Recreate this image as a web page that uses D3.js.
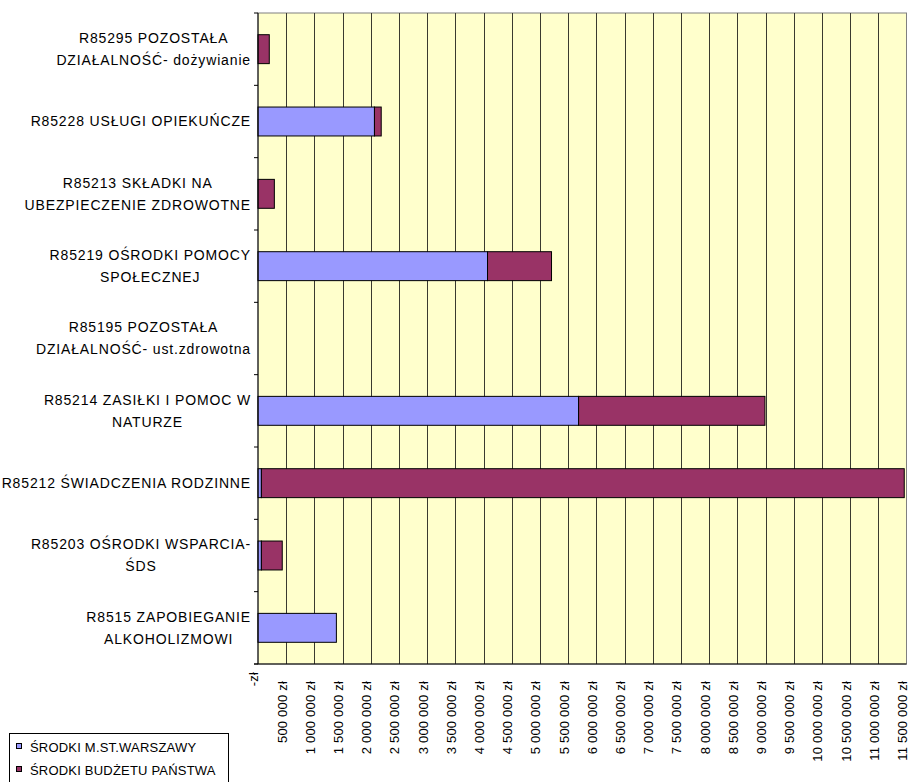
<!DOCTYPE html>
<html lang="pl">
<head>
    <meta charset="UTF-8">
    <title>Środki</title>
    <script src="https://d3js.org/d3.v7.min.js"></script>
    <style>
        body {
            margin: 0;
            background-color: #ffffff;
            font-family: Arial, "Liberation Sans", sans-serif;
        }
        text {
            fill: #000;
        }
        .cat-label {
            font-size: 14px;
            letter-spacing: 0.85px;
        }
        .x-label {
            font-size: 13px;
            letter-spacing: 0.2px;
        }
    </style>
</head>
<body>
    <div id="chart"></div>

    <script>
        // categories from top to bottom, "\n" marks where the label wraps
        const categories = [
            "R85295 POZOSTAŁA\nDZIAŁALNOŚĆ- dożywianie",
            "R85228 USŁUGI OPIEKUŃCZE",
            "R85213 SKŁADKI NA\nUBEZPIECZENIE ZDROWOTNE",
            "R85219 OŚRODKI POMOCY\nSPOŁECZNEJ",
            "R85195 POZOSTAŁA\nDZIAŁALNOŚĆ- ust.zdrowotna",
            "R85214 ZASIŁKI I POMOC W\nNATURZE",
            "R85212 ŚWIADCZENIA RODZINNE",
            "R85203 OŚRODKI WSPARCIA-\nŚDS",
            "R8515 ZAPOBIEGANIE\nALKOHOLIZMOWI"
        ];
        const srodkiWarszawy = [0, 2065000, 0, 4070000, 0, 5685000, 60000, 60000, 1390000];
        const srodkiBudzetu = [200000, 120000, 290000, 1135000, 0, 3305000, 11400000, 370000, 0];

        const seriesNames = ["ŚRODKI M.ST.WARSZAWY", "ŚRODKI BUDŻETU PAŃSTWA"];
        const seriesColors = ["#9999ff", "#993366"];

        const xMax = 11500000;
        const xTicks = d3.range(0, xMax + 1, 500000);

        const width = 909;
        const height = 782;
        const plot = {left: 258, right: 906.5, top: 13, bottom: 664};

        const svg = d3.select("#chart")
            .append("svg")
            .attr("width", width)
            .attr("height", height);

        const x = d3.scaleLinear()
            .domain([0, xMax])
            .range([plot.left, plot.right]);

        const y = d3.scaleBand()
            .domain(categories)
            .range([plot.top, plot.bottom])
            .paddingInner(0.6)
            .paddingOuter(0.3);

        const rows = categories.map((c, i) => ({
            cat: c,
            a: srodkiWarszawy[i],
            b: srodkiBudzetu[i]
        }));

        // plot background
        svg.append("rect")
            .attr("x", plot.left)
            .attr("y", plot.top)
            .attr("width", plot.right - plot.left)
            .attr("height", plot.bottom - plot.top)
            .attr("fill", "#ffffcc")
            .attr("stroke", "#808080")
            .attr("stroke-width", 1);

        // vertical gridlines
        svg.append("g")
            .selectAll("line")
            .data(xTicks.slice(1, -1))
            .join("line")
            .attr("x1", d => Math.round(x(d)) + 0.5)
            .attr("x2", d => Math.round(x(d)) + 0.5)
            .attr("y1", plot.top)
            .attr("y2", plot.bottom)
            .attr("stroke", "#3a3a30")
            .attr("stroke-width", 1);

        // stacked bars
        const stack = d3.stack().keys(["a", "b"])(rows);

        svg.append("g")
            .selectAll("g")
            .data(stack)
            .join("g")
            .attr("fill", (d, i) => seriesColors[i])
            .selectAll("rect")
            .data(d => d.filter(p => p[1] - p[0] > 0))
            .join("rect")
            .attr("x", d => x(d[0]))
            .attr("y", d => y(d.data.cat))
            .attr("width", d => x(d[1]) - x(d[0]))
            .attr("height", y.bandwidth())
            .attr("stroke", "#000")
            .attr("stroke-width", 1);

        // left axis with ticks at band boundaries
        const boundaries = d3.range(categories.length + 1).map(i => plot.top + i * (plot.bottom - plot.top) / categories.length);

        svg.append("line")
            .attr("x1", plot.left).attr("x2", plot.left)
            .attr("y1", plot.top).attr("y2", plot.bottom)
            .attr("stroke", "#000");

        svg.append("g")
            .selectAll("line")
            .data(boundaries)
            .join("line")
            .attr("x1", plot.left - 4)
            .attr("x2", plot.left)
            .attr("y1", d => d)
            .attr("y2", d => d)
            .attr("stroke", "#000");

        svg.append("line")
            .attr("x1", plot.left - 4).attr("x2", plot.right)
            .attr("y1", plot.bottom).attr("y2", plot.bottom)
            .attr("stroke", "#000");

        // category labels, each block right aligned, lines centred inside it
        const labelRight = 251;
        const lineGap = 22;
        const labels = svg.append("g");

        categories.forEach(c => {
            const lines = c.split("\n");
            const cy = y(c) + y.bandwidth() / 2;
            const g = labels.append("g");
            const texts = g.selectAll("text")
                .data(lines)
                .join("text")
                .attr("class", "cat-label")
                .attr("text-anchor", "middle")
                .attr("dy", "0.35em")
                .attr("y", (d, i) => cy + (i - (lines.length - 1) / 2) * lineGap)
                .text(d => d);
            const w = d3.max(texts.nodes(), n => n.getComputedTextLength());
            texts.attr("x", labelRight - w / 2);
        });

        // x tick labels, rotated
        const fmt = v => v === 0 ? "-zł" : d3.format(",")(v).replace(/,/g, " ") + " zł";

        svg.append("g")
            .selectAll("text")
            .data(xTicks)
            .join("text")
            .attr("class", "x-label")
            .attr("text-anchor", "end")
            .attr("dy", "0.3em")
            .attr("transform", d => `translate(${x(d) - 3.5},${d === 0 ? 672 : 681}) rotate(-90)`)
            .text(fmt);

        // legend
        const legend = svg.append("g");

        legend.append("rect")
            .attr("x", 9.5)
            .attr("y", 733.5)
            .attr("width", 219)
            .attr("height", 60)
            .attr("fill", "#fff")
            .attr("stroke", "#000");

        const item = legend.selectAll(".item")
            .data(seriesNames)
            .join("g")
            .attr("class", "item")
            .attr("transform", (d, i) => `translate(0,${747 + i * 23})`);

        item.append("rect")
            .attr("x", 16.5)
            .attr("y", -3.5)
            .attr("width", 5)
            .attr("height", 5)
            .attr("fill", (d, i) => seriesColors[i])
            .attr("stroke", "#000");

        item.append("text")
            .attr("x", 30)
            .attr("dy", "0.35em")
            .attr("font-size", "13px")
            .attr("letter-spacing", "0.2px")
            .text(d => d);
    </script>
</body>
</html>
